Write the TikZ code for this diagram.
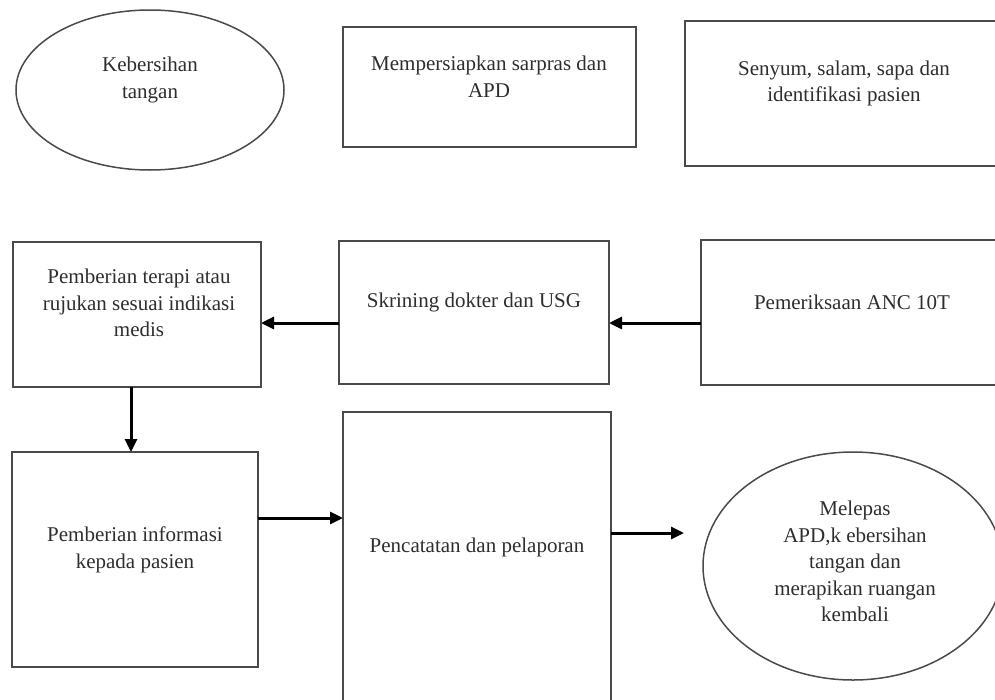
\documentclass[tikz,border=0pt]{standalone}
\usepackage{fontspec}
\setmainfont{Liberation Serif}
\usetikzlibrary{arrows.meta,shapes.geometric}
\definecolor{boxline}{HTML}{4A4A4A}
\definecolor{txt}{HTML}{2E2E2E}
\begin{document}
\begin{tikzpicture}[x=1pt,y=1pt,
  boxnode/.style={draw=boxline,line width=1.8pt,rectangle,inner sep=0pt,outer sep=0pt},
  ovalnode/.style={draw=boxline,line width=1.5pt,ellipse,inner sep=0pt,outer sep=0pt},
  label/.style={text=txt,align=center,inner sep=0pt,font=\fontsize{21}{26.5}\selectfont},
  arr/.style={line width=3pt,black,-{Triangle[length=13pt,width=12pt]}}]
\clip (0,0) rectangle (995,-699);
\fill[white] (0,0) rectangle (995,-699);
% shapes
\node[ovalnode,minimum width=268pt,minimum height=160pt] (e1) at (150,-90) {};
\node[boxnode,minimum width=293pt,minimum height=120pt] (r1) at (489.5,-87) {};
\node[boxnode,minimum width=318pt,minimum height=145pt] (r2) at (844,-93.5) {};
\node[boxnode,minimum width=248pt,minimum height=145pt] (r3) at (137,-314.5) {};
\node[boxnode,minimum width=270pt,minimum height=143pt] (r4) at (474,-312.5) {};
\node[boxnode,minimum width=302pt,minimum height=145pt] (r5) at (852,-312.5) {};
\node[boxnode,minimum width=246pt,minimum height=215pt] (r6) at (135,-559.5) {};
\node[boxnode,minimum width=268pt,minimum height=293pt] (r7) at (477,-558.5) {};
\node[ovalnode,minimum width=300pt,minimum height=228pt] (e2) at (853,-566) {};
% texts
\node[label] (t1) at (150,-80) {Kebersihan\\tangan};
\node[label] (t2) at (489,-76.5) {Mempersiapkan sarpras dan\\APD};
\node[label] (t3) at (844,-83.5) {Senyum, salam, sapa dan\\identifikasi pasien};
\node[label] (t4) at (139,-303) {Pemberian terapi atau\\rujukan sesuai indikasi\\medis};
\node[label] (t5) at (474,-302) {Skrining dokter dan USG};
\node[label] (t6) at (852,-302) {Pemeriksaan ANC 10T};
\node[label] (t7) at (135,-550) {Pemberian informasi\\kepada pasien};
\node[label] (t8) at (477,-547) {Pencatatan dan pelaporan};
\node[label] (t9) at (855,-561.5) {Melepas\\APD,k ebersihan\\tangan dan\\merapikan ruangan\\kembali};
% connectors
\draw[arr] ([yshift=-10.5pt]r5.west) -- ([yshift=-10.5pt]r4.east);
\draw[arr] ([yshift=-10.5pt]r4.west) -- ([yshift=-8.5pt]r3.east);
\draw[arr] ([xshift=-6pt]r3.south) -- ([xshift=-4pt]r6.north);
\draw[arr] ([yshift=41.5pt]r6.east) -- ([yshift=40.5pt]r7.west);
\draw[arr,shorten >=19pt] ([yshift=25.5pt]r7.east) -- ([yshift=25.5pt]r7.east -| e2.west);
\end{tikzpicture}
\end{document}
